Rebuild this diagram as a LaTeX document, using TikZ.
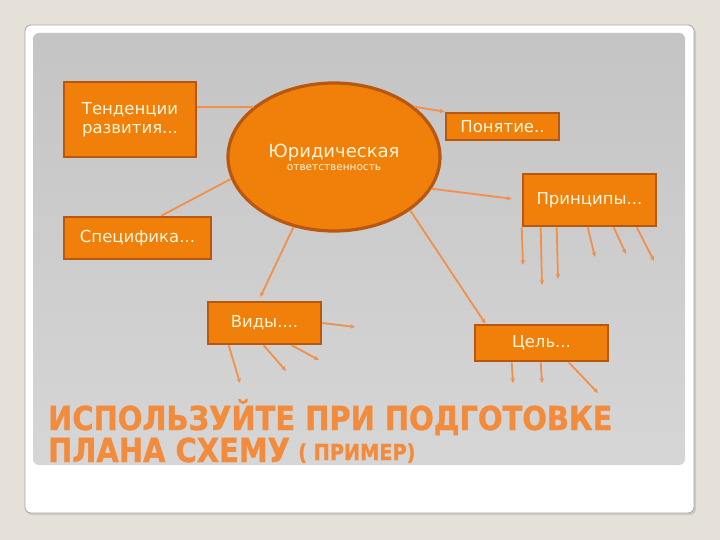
\documentclass[tikz,border=0pt]{standalone}
\usepackage{fontspec}
\setmainfont{DejaVu Sans}
\newfontfamily\headfont[FakeBold=1.2]{DejaVu Sans}
\usetikzlibrary{arrows.meta,shapes.geometric}
\definecolor{bgcol}{HTML}{E5E1D9}
\definecolor{cardline}{HTML}{A9A6A0}
\definecolor{paneltop}{HTML}{C4C4C4}
\definecolor{panelbot}{HTML}{D6D6D6}
\definecolor{boxfill}{HTML}{F0800A}
\definecolor{boxline}{HTML}{B85810}
\definecolor{boxtext}{HTML}{FFF6DC}
\definecolor{linkcol}{HTML}{F0904A}
\definecolor{titlecol}{HTML}{F28C3C}
\tikzset{
  box/.style={draw=boxline, line width=2.6pt, fill=boxfill, text=boxtext,
    font=\fontsize{16.5}{19.5}\selectfont, inner sep=0pt, align=center},
  link/.style={draw=linkcol, line width=1.8pt},
  arr/.style={link, -{Stealth[length=5pt,width=4.5pt]}},
  heading/.style={text=titlecol, anchor=base west, inner sep=0pt,
    xscale=0.877, transform shape},
}
\begin{document}
\begin{tikzpicture}[x=1pt,y=-1pt]
  \useasboundingbox (0,0) rectangle (720,540);
  % slide
  \fill[bgcol] (0,0) rectangle (720,540);
  \fill[cardline!60, rounded corners=6pt] (26,27) rectangle (696,515);
  \filldraw[fill=white, draw=cardline, line width=0.8pt, rounded corners=6pt]
    (25,25) rectangle (694,513);
  \shade[top color=paneltop, bottom color=panelbot, rounded corners=6pt]
    (33,33) rectangle (685,465);

  % nodes
  \node[ellipse, draw=boxline, line width=3.2pt, fill=boxfill, text=boxtext,
    minimum width=212pt, minimum height=148pt, inner sep=0pt, align=center]
    (jur) at (334,157)
    {{\fontsize{18}{20}\selectfont Юридическая}\\[1pt]
     {\fontsize{10.5}{12}\selectfont ответственность}};
  \node[box, minimum width=132pt, minimum height=75pt] (tend) at (130,119.5)
    {Тенденции\\развития...};
  \node[box, minimum width=113pt, minimum height=27pt] (pon) at (502.5,126.5)
    {Понятие..};
  \node[box, minimum width=133pt, minimum height=52pt] (princ) at (589.5,200)
    {Принципы...};
  \node[box, minimum width=147pt, minimum height=42pt] (spec) at (137.5,238)
    {Специфика...};
  \node[box, minimum width=113pt, minimum height=42pt] (vidy) at (264.5,323)
    {Виды....};
  \node[box, minimum width=133pt, minimum height=36pt] (cel) at (541.5,343)
    {Цель...};

  % links from the ellipse
  \draw[link] (jur.148) -- (jur.148 -| tend.east);
  \draw[arr] (jur.32) -- (pon.north west);
  \draw[arr, shorten >=10pt] (jur.-18) -- (princ.west);
  \draw[arr] (jur.-35) -- (cel.161);
  \draw[link] (jur.192) -- (spec.43);
  \draw[arr, shorten >=4pt] (jur.240) -- (vidy.105);

  % free ends
  \foreach \s/\ex/\ey [count=\i] in {0/523/265, 19/542/285, 35/558/279,
      66/595/257, 92/626/254, 115/654/261}
  {
    \coordinate (p\i) at (\ex,\ey);
    \draw[arr] ([xshift=\s pt]princ.south west) -- (p\i);
  }
  \foreach \s/\ex/\ey [count=\i] in {22/240/383, 57/286/371, 85/319/360}
  {
    \coordinate (v\i) at (\ex,\ey);
    \draw[arr] ([xshift=\s pt]vidy.south west) -- (v\i);
  }
  \coordinate (v4) at (355,327);
  \draw[arr] (vidy.east) -- (v4);
  \foreach \s/\ex/\ey [count=\i] in {38/513/383, 67/542/383, 95/598/393}
  {
    \coordinate (c\i) at (\ex,\ey);
    \draw[arr] ([xshift=\s pt]cel.south west) -- (c\i);
  }

  % title
  \node[heading, font=\headfont\fontsize{33}{36}\bfseries] (title1) at (48,430)
    {ИСПОЛЬЗУЙТЕ ПРИ ПОДГОТОВКЕ};
  \node[heading, font=\headfont\fontsize{33}{36}\bfseries] (title2) at (48,462)
    {ПЛАНА СХЕМУ};
  \node[heading, font=\headfont\fontsize{22}{24}\bfseries] (title3) at (298,460)
    {( ПРИМЕР)};
\end{tikzpicture}
\end{document}
